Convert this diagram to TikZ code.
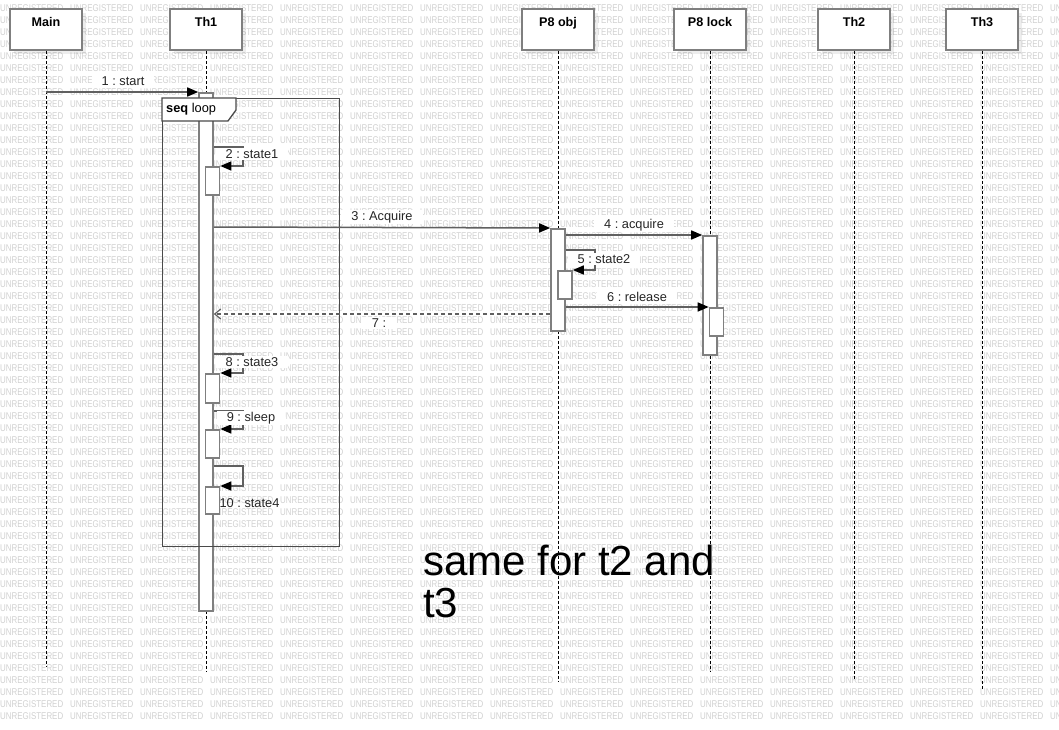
\documentclass[tikz,border=0pt]{standalone}
\usepackage{fontspec}
\setmainfont{Liberation Sans}
\frenchspacing
\usetikzlibrary{arrows.meta, positioning, shadows}
\definecolor{boxgray}{HTML}{7F7F7F}
\definecolor{msggray}{HTML}{606060}
\definecolor{wmgray}{HTML}{D0D0D0}
\definecolor{framegray}{HTML}{4A4A4A}
\tikzset{
  lifebox/.style={draw=boxgray, fill=white, line width=1.8pt, minimum width=72pt,
    minimum height=41pt, text height=14pt, text depth=19pt, inner sep=4pt,
    font=\bfseries\fontsize{12.6}{14}\selectfont,
    drop shadow={shadow xshift=4pt, shadow yshift=-4pt, fill=black, opacity=0.07}},
  lifeline/.style={dash pattern=on 3pt off 2pt, line width=1pt},
  actbar/.style={draw=boxgray, fill=white, line width=1.6pt, minimum width=14pt, inner sep=0pt, anchor=north},
  msg/.style={draw=msggray, line width=1.5pt, -{Triangle[length=11pt, width=9pt, color=black]}},
  reply/.style={draw=msggray, line width=1.2pt, dash pattern=on 4pt off 3pt, -{Straight Barb[length=6pt, width=10pt]}},
  lbl/.style={fill=white, inner xsep=10pt, inner ysep=1.5pt, text=black!85, font=\fontsize{12.8}{14}\selectfont},
  frame/.style={draw=framegray, line width=1.3pt},
  wmark/.style={anchor=west, inner sep=0pt, text=wmgray, font=\fontsize{9.8}{10}\selectfont}
}
\newcommand{\wmtext}{\scalebox{0.81}[1]{UNREGISTERED}}
\begin{document}
\begin{tikzpicture}[x=1pt, y=-1pt]
\useasboundingbox (0,0) rectangle (1059,730);
\begin{scope}
\clip (0,0) rectangle (1059,730);
\foreach \i in {0,...,15} \foreach \j in {0,...,59} \node[wmark] (wm-\i-\j) at (70*\i, 8+12*\j) {\wmtext};
\end{scope}

\node[lifebox] (main) at (46,29.5) {Main};
\node[lifebox] (th1) at (206,29.5) {Th1};
\node[lifebox] (p8obj) at (558,29.5) {P8 obj};
\node[lifebox] (p8lock) at (710,29.5) {P8 lock};
\node[lifebox] (th2) at (854,29.5) {Th2};
\node[lifebox] (th3) at (982,29.5) {Th3};

\coordinate (main-end) at (46,666);
\coordinate (th1-end) at (206,672);
\coordinate (p8obj-end) at (558,682);
\coordinate (p8lock-end) at (710,672);
\coordinate (th2-end) at (854,680);
\coordinate (th3-end) at (982,690);
\foreach \n in {main, th1, p8obj, p8lock, th2, th3} \draw[lifeline] (\n) -- (\n-end);

\node[actbar, minimum height=518pt] (th1bar) at (206,92) {};
\node[actbar, minimum height=102pt] (p8bar) at (558,228) {};
\node[actbar, minimum height=119pt] (lockbar) at (710,235) {};

\node[frame, anchor=north west, minimum width=177pt, minimum height=448pt] (loop) at (162,98) {};
\draw[frame, fill=white] (loop.north west) -- ++(74,0) -- ++(0,12) -- ++(-8,11) -- ++(-66,0) -- cycle;
\node[anchor=west, inner sep=0pt, font=\fontsize{12.8}{14}\selectfont] (looptag) at (166,109.5) {\textbf{seq} loop};

\node[actbar, minimum height=28pt] (st1) at (212.5,166) {};
\node[actbar, minimum height=28pt] (st2) at (565,270) {};
\node[actbar, minimum height=28pt] (rel) at (716.5,307) {};
\node[actbar, minimum height=29pt] (st3) at (212.5,373) {};
\node[actbar, minimum height=28pt] (slp) at (212.5,429) {};
\node[actbar, minimum height=27pt] (st4) at (212.5,486) {};

\coordinate (m1) at (46,92);
\draw[msg] (m1) -- (th1bar.north west);
\draw[msg] (th1bar.east |- 0,147) -- (243,147) |- (st1.north east);
\draw[msg] (th1bar.east |- 0,227) -- (p8bar.north west);
\draw[msg] (p8bar.east |- lockbar.north) -- (lockbar.north west);
\draw[msg] (p8bar.east |- 0,250) -- (595,250) |- (st2.north east);
\draw[msg] (p8bar.east |- rel.north) -- (rel.north west);
\draw[reply] (p8bar.west |- 0,314) -- (th1bar.east |- 0,314);
\draw[msg] (th1bar.east |- 0,354) -- (243,354) |- (st3.north east);
\draw[msg] (th1bar.east |- 0,411) -- (243,411) |- (slp.north east);
\draw[msg] (th1bar.east |- 0,466) -- (243,466) |- (st4.north east);

\node[lbl] (l1) at (123,81) {1 : start};
\node[lbl] (l2) at (252,154) {2 : state1};
\node[lbl] (l3) at (382,217) {3 : Acquire};
\node[lbl] (l4) at (634,225) {4 : acquire};
\node[lbl] (l5) at (604,259) {5 : state2};
\node[lbl] (l6) at (637,297) {6 : release};
\node[lbl] (l7) at (379,323) {7 :};
\node[lbl] (l8) at (252,362) {8 : state3};
\node[lbl] (l9) at (251,418) {9 : sleep};
\node[lbl, fill=none] (l10) at (249.5,503) {10 : state4};

\node[anchor=base west, align=left, inner sep=0pt, font=\fontsize{42}{42}\selectfont] (note) at (423,617) {same for t2 and\\t3};
\end{tikzpicture}
\end{document}
